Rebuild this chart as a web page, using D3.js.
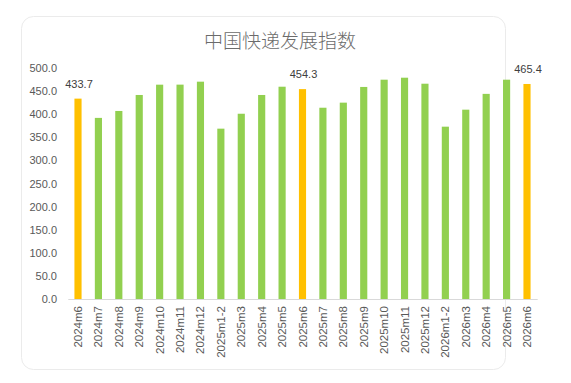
<!DOCTYPE html>
<html><head><meta charset="utf-8">
<script src="https://cdn.jsdelivr.net/npm/d3@7"></script>
<style>
html,body{margin:0;padding:0;background:#fff;}
svg{display:block;}
</style></head>
<body><svg id="c" width="571" height="383"></svg>
<script>
const categories = ["2024m6","2024m7","2024m8","2024m9","2024m10","2024m11","2024m12","2025m1-2","2025m3","2025m4","2025m5","2025m6","2025m7","2025m8","2025m9","2025m10","2025m11","2025m12","2026m1-2","2026m3","2026m4","2026m5","2026m6"];
const values = [433.7,392,407,441.6,463.9,464,470.4,368.7,401,441.6,459.5,454.3,414,425,459,474.7,479,466,373,409.8,444,474.7,465.4];
const highlighted = ["2024m6","2025m6","2026m6"];
const yTicks = [0,50,100,150,200,250,300,350,400,450,500];
const title = "中国快递发展指数";

const svg = d3.select("#c");
svg.append("rect").attr("x",21.5).attr("y",16.5).attr("width",484).attr("height",353)
  .attr("rx",12).attr("fill","#fff").attr("stroke","#ebebeb");

svg.append("text").attr("x",280).attr("y",48).attr("text-anchor","middle")
  .attr("font-family","'Noto Sans CJK SC'").attr("font-weight",300).attr("font-size",19)
  .attr("fill","#6b6b6b").text(title);

const x = d3.scaleBand().domain(categories).range([67.8,537.2]).paddingInner(0.65).paddingOuter(0.325);
const y = d3.scaleLinear().domain([0,500]).range([299,68]);
const font = "'Liberation Sans', Arial, sans-serif";

const ya = svg.append("g").attr("transform","translate(60,0)")
  .call(d3.axisLeft(y).tickValues(yTicks).tickFormat(d3.format(".1f")).tickSize(0).tickPadding(3));
ya.select(".domain").remove();
ya.selectAll("text").attr("font-family",font).attr("font-size",11).attr("fill","#595959");

svg.selectAll("rect.bar").data(categories).enter().append("rect").attr("class","bar")
  .attr("x",d=>x(d)).attr("width",x.bandwidth())
  .attr("y",(d,i)=>y(values[i])).attr("height",(d,i)=>y(0)-y(values[i]))
  .attr("fill",d=>highlighted.includes(d)?"#FFC000":"#92D050");

const xa = svg.append("g").attr("transform","translate(0,299)")
  .call(d3.axisBottom(x).tickSize(0).tickPadding(0));
xa.select(".domain").attr("stroke","#d9d9d9");
xa.selectAll("text").attr("font-family",font).attr("font-size",11.5).attr("fill","#595959")
  .attr("text-anchor","end").attr("transform","translate(0,7) rotate(-90)").attr("dy","0.35em").attr("x",0).attr("y",0);

svg.selectAll("text.lbl").data(categories.filter(c=>highlighted.includes(c))).enter().append("text").attr("class","lbl")
  .attr("x",d=>x(d)+x.bandwidth()/2+1).attr("y",d=>y(values[categories.indexOf(d)])-11)
  .attr("text-anchor","middle").attr("font-family",font).attr("font-size",11).attr("fill","#404040")
  .text(d=>values[categories.indexOf(d)].toFixed(1));
</script></body></html>
